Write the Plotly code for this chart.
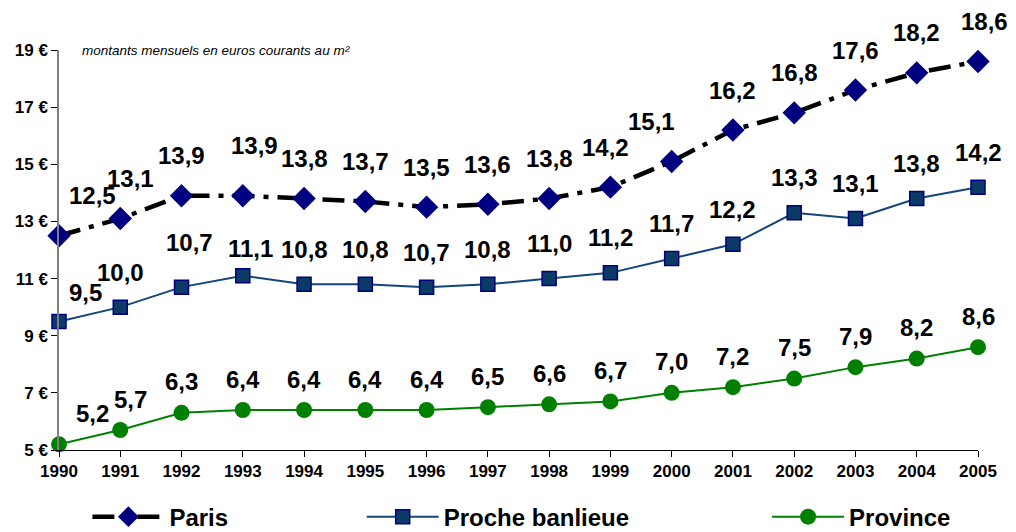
import plotly.graph_objects as go

years = list(range(1990, 2006))
paris = [12.5, 13.1, 13.9, 13.9, 13.8, 13.7, 13.5, 13.6, 13.8, 14.2, 15.1, 16.2, 16.8, 17.6, 18.2, 18.6]
banlieue = [9.5, 10.0, 10.7, 11.1, 10.8, 10.8, 10.7, 10.8, 11.0, 11.2, 11.7, 12.2, 13.3, 13.1, 13.8, 14.2]
province = [5.2, 5.7, 6.3, 6.4, 6.4, 6.4, 6.4, 6.5, 6.6, 6.7, 7.0, 7.2, 7.5, 7.9, 8.2, 8.6]
y_ticks = [5, 7, 9, 11, 13, 15, 17, 19]
y_tick_labels = [f"{v} €" for v in y_ticks]

FONT = "Liberation Sans, Arial, sans-serif"

def fr(v):
    return f"{v:.1f}".replace(".", ",")

fig = go.Figure()

fig.add_trace(go.Scatter(
    x=years, y=paris, name="Paris", mode="lines+markers", cliponaxis=False,
    line=dict(color="black", width=4.5, dash="22px,9px,5px,9px"),
    marker=dict(symbol="diamond", size=18, color="#000080", line=dict(width=0)),
    legend="legend",
))
fig.add_trace(go.Scatter(
    x=years, y=banlieue, name="Proche banlieue", mode="lines+markers", cliponaxis=False,
    line=dict(color="#12457A", width=2),
    marker=dict(symbol="square", size=14, color="#0B3A66", line=dict(color="#000080", width=1.5)),
    legend="legend2",
))
fig.add_trace(go.Scatter(
    x=years, y=province, name="Province", mode="lines+markers", cliponaxis=False,
    line=dict(color="#008000", width=2),
    marker=dict(symbol="circle", size=16, color="#008000"),
    legend="legend3",
))

# value labels
series = [(paris, 40), (banlieue, 35), (province, 31)]
nudges = {(0, 0): (33, 0), (0, 1): (10, 0), (0, 3): (12, 10), (0, 9): (-5, 0), (0, 10): (-20, 0),
          (0, 15): (6, 0),
          (1, 0): (26, -6), (1, 2): (8, 10), (1, 3): (8, -8),
          (2, 0): (33, 0), (2, 1): (10, 0)}
for si, (vals, dy) in enumerate(series):
    for i, (x, v) in enumerate(zip(years, vals)):
        nx, ny = nudges.get((si, i), (0, 0))
        fig.add_annotation(x=x, y=v, text=fr(v), showarrow=False,
                           xshift=nx, yshift=dy + ny,
                           font=dict(family=FONT, size=24, color="black", weight="bold"))

fig.add_annotation(xref="paper", yref="paper", x=0.023, y=1.0, xanchor="left", yanchor="middle",
                   text="<i>montants mensuels en euros courants au m²</i>", showarrow=False,
                   font=dict(family=FONT, size=13.5, color="black"))

legend_common = dict(orientation="h", xanchor="left", yanchor="middle", bgcolor="rgba(0,0,0,0)",
                     font=dict(family=FONT, size=24, color="black", weight="bold"),
                     itemwidth=72, xref="container", yref="container")

fig.update_layout(
    width=1016, height=532,
    margin=dict(l=59, r=38, t=50, b=82),
    plot_bgcolor="white", paper_bgcolor="white",
    showlegend=True,
    legend=dict(x=0.086, y=0.028, **legend_common),
    legend2=dict(x=0.356, y=0.028, **legend_common),
    legend3=dict(x=0.755, y=0.028, **legend_common),
    xaxis=dict(range=[1990, 2005], tickmode="array", tickvals=years, ticktext=[str(y) for y in years],
               showgrid=False, zeroline=False, showline=True, linecolor="black", linewidth=1,
               ticks="outside", ticklen=6, tickcolor="black",
               tickfont=dict(family=FONT, size=17, color="black", weight="bold")),
    yaxis=dict(range=[5, 19], tickmode="array", tickvals=y_ticks, ticktext=y_tick_labels,
               showgrid=False, zeroline=False, showline=True, linecolor="#808080", linewidth=1.5,
               ticks="outside", ticklen=6, tickcolor="black",
               tickfont=dict(family=FONT, size=17, color="black", weight="bold")),
    xaxis2=dict(range=[1990, 2005], overlaying="x", anchor="y", side="bottom", tickmode="array",
                tickvals=years, showticklabels=False, ticks="inside", ticklen=6, tickcolor="black",
                showgrid=False, zeroline=False, showline=False),
    yaxis2=dict(range=[5, 19], overlaying="y", anchor="x", side="left", tickmode="array",
                tickvals=y_ticks, showticklabels=False, ticks="inside", ticklen=5, tickcolor="black",
                showgrid=False, zeroline=False, showline=False),
)

fig.write_html("out.html", config={"displayModeBar": False},
               post_script="document.body.style.margin='0';")
